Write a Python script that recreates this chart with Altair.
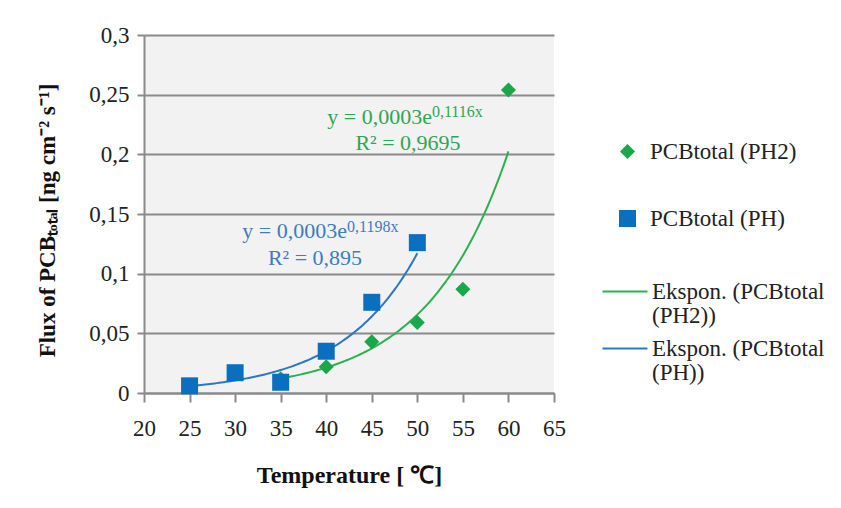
import altair as alt
import pandas as pd

# ---- data ----
temp_ph2 = [35, 40, 45, 50, 55, 60]
flux_ph2 = [0.012, 0.022, 0.043, 0.059, 0.087, 0.254]
temp_ph = [25, 30, 35, 40, 45, 50]
flux_ph = [0.006, 0.017, 0.009, 0.035, 0.076, 0.126]
series_names = ["PCBtotal (PH2)", "PCBtotal (PH)"]
trend_names = ["Ekspon. (PCBtotal (PH2))", "Ekspon. (PCBtotal (PH))"]
x_ticks = [20, 25, 30, 35, 40, 45, 50, 55, 60, 65]
y_ticks = [0, 0.05, 0.1, 0.15, 0.2, 0.25, 0.3]
eq_green = ["y = 0,0003e", "0,1116x", "R² = 0,9695"]
eq_blue = ["y = 0,0003e", "0,1198x", "R² = 0,895"]

FONT = "Liberation Serif"
GRAY = "#8a8a8a"
GREEN = "#1aa64b"
GREEN_LINE = "#2bb24e"
GREEN_TXT = "#2fa653"
BLUE = "#0b6fc0"
BLUE_LINE = "#2a78c2"
BLUE_TXT = "#3a7dc3"

df = pd.DataFrame({
    "temp": temp_ph2 + temp_ph,
    "flux": flux_ph2 + flux_ph,
    "series": [series_names[0]] * len(temp_ph2) + [series_names[1]] * len(temp_ph),
})

LINE_PATH = "M-3.47,0H2.53"

xscale = alt.Scale(domain=[20, 65], nice=False, zero=False)
yscale = alt.Scale(domain=[0, 0.3], nice=False, zero=False)

xaxis = alt.Axis(
    values=x_ticks, title="Temperature [ ℃]", grid=False,
    labelFont=FONT, labelFontSize=23, labelColor="#222", labelPadding=15,
    labelFlush=False, labelOverlap=False,
    tickSize=9, tickColor=GRAY, tickWidth=2, domainColor=GRAY, domainWidth=2,
    titleFont=FONT, titleFontSize=24, titleFontWeight="bold", titleColor="#111",
    titleX=205, titleY=82, titleAlign="center", titleBaseline="middle",
)
yaxis = alt.Axis(
    values=y_ticks, title="Flux of PCBₜₒₜₐₗ [ng cm⁻² s⁻¹]",
    labelExpr="replace(toString(datum.value), '.', ',')",
    grid=True, gridColor=GRAY, gridWidth=2,
    labelFont=FONT, labelFontSize=23, labelColor="#222", labelPadding=8,
    labelFlush=False, labelOverlap=False,
    tickSize=7, tickColor=GRAY, tickWidth=2, domainColor=GRAY, domainWidth=2,
    titleFont=FONT, titleFontSize=23, titleFontWeight="bold", titleColor="#111",
    titleX=-97, titleY=185, titleAngle=270, titleAlign="center", titleBaseline="middle",
)

legend_pts = alt.Legend(
    title=None, orient="none", legendX=472, legendY=105, padding=0,
    labelFont=FONT, labelFontSize=23, labelColor="#222", labelLimit=400,
    labelOffset=11, rowPadding=43,
)
legend_lines = alt.Legend(
    title=None, orient="none", legendX=473, legendY=245, padding=0,
    labelFont=FONT, labelFontSize=23, labelColor="#222", labelLimit=400,
    labelOffset=12, rowPadding=9, symbolType=LINE_PATH, symbolSize=225,
    symbolStrokeWidth=2,
    labelExpr="split(replace(datum.label, ' (PH', '|(PH'), '|')",
)

points = alt.Chart(df).mark_point(filled=True, opacity=1).encode(
    x=alt.X("temp:Q", scale=xscale, axis=xaxis),
    y=alt.Y("flux:Q", scale=yscale, axis=yaxis),
    fill=alt.Fill("series:N", scale=alt.Scale(domain=series_names, range=[GREEN, BLUE]), legend=legend_pts),
    shape=alt.Shape("series:N", scale=alt.Scale(domain=series_names, range=["diamond", "square"]), legend=legend_pts),
    size=alt.Size("series:N", scale=alt.Scale(domain=series_names, range=[225, 289]), legend=legend_pts),
    order=alt.Order("series:N", sort="descending"),
)

KEY = "(isValid(datum.keys) ? datum.keys[{i}] : datum.{f})"
trend = (
    alt.Chart(df)
    .transform_joinaggregate(xmin="min(temp)", xmax="max(temp)", groupby=["series"])
    .transform_calculate(ly="log(datum.flux)")
    .transform_regression("temp", "ly", groupby=["series", "xmin", "xmax"], method="linear", params=True)
    .transform_calculate(
        xs="sequence(" + KEY.format(i=1, f="xmin") + ", " + KEY.format(i=2, f="xmax") + " + 0.001, 0.25)",
        name="'Ekspon. (' + " + KEY.format(i=0, f="series") + " + ')'",
    )
    .transform_flatten(["xs"])
    .transform_calculate(fit="exp(datum.coef[0] + datum.coef[1] * datum.xs)")
    .mark_line(strokeWidth=2)
    .encode(
        x=alt.X("xs:Q", scale=xscale, axis=xaxis),
        y=alt.Y("fit:Q", scale=yscale, axis=yaxis),
        stroke=alt.Stroke("name:N", scale=alt.Scale(domain=trend_names, range=[GREEN_LINE, BLUE_LINE]),
                          legend=legend_lines),
    )
)


def label(text, xv, yv, size, color, align):
    return alt.Chart(pd.DataFrame({"t": [text]})).mark_text(
        font=FONT, fontSize=size, color=color, align=align, baseline="alphabetic"
    ).encode(x=alt.datum(xv), y=alt.datum(yv), text="t:N")


annotations = [
    label(eq_green[0], 51.6, 0.2254, 22, GREEN_TXT, "right"),
    label(eq_green[1], 51.6, 0.2313, 16, GREEN_TXT, "left"),
    label(eq_green[2], 48.98, 0.2036, 22, GREEN_TXT, "center"),
    label(eq_blue[0], 42.28, 0.1299, 22, BLUE_TXT, "right"),
    label(eq_blue[1], 42.28, 0.1349, 16, BLUE_TXT, "left"),
    label(eq_blue[2], 38.77, 0.1073, 22, BLUE_TXT, "center"),
]

chart = (
    alt.layer(trend, points, *annotations)
    .properties(
        width=410, height=358,
        autosize=alt.AutoSizeParams(type="none"),
        padding={"left": 136, "top": 27, "right": 279, "bottom": 100},
        background="white",
    )
    .configure(style={"guide-label": {"lineHeight": 24}})
    .configure_view(fill="#f2f2f2", strokeWidth=0)
)

chart.save("out.html", embed_options={"renderer": "svg", "actions": False})
